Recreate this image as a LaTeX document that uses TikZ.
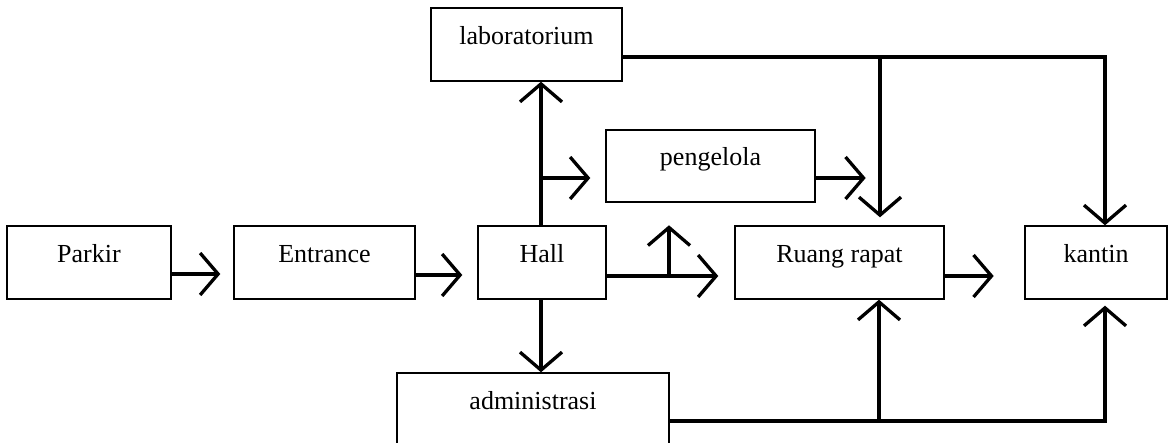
\documentclass[tikz,border=0pt]{standalone}
\usepackage{fontspec}
\setmainfont{Liberation Serif}
\usetikzlibrary{arrows.meta}
\tikzset{
  box/.style={draw, line width=1.4pt, inner sep=0pt, text height=9pt, text depth=9pt,
    font=\fontsize{26}{30}\selectfont, minimum height=73pt},
  arr/.style={line width=3.3pt, -{Straight Barb[length=18pt,width=42pt]}},
  conn/.style={line width=3.3pt}
}
\begin{document}
\begin{tikzpicture}[x=1pt,y=-1pt]
\clip (0,0) rectangle (1168,443);
\fill[white] (0,0) rectangle (1168,443);
% boxes
\node[box, minimum width=164pt] (parkir) at (89,262.5) {Parkir};
\node[box, minimum width=181pt] (entrance) at (324.5,262.5) {Entrance};
\node[box, minimum width=128pt] (hall) at (542,262.5) {Hall};
\node[box, minimum width=209pt] (ruang) at (839.5,262.5) {Ruang rapat};
\node[box, minimum width=142pt] (kantin) at (1096,262.5) {kantin};
\node[box, minimum width=191pt] (lab) at (526.5,44.5) {laboratorium};
\node[box, minimum width=209pt, minimum height=72pt] (peng) at (710.5,166) {pengelola};
\node[box, minimum width=272pt] (admin) at (533,409.5) {administrasi};
% coordinates of branch points
\coordinate (hb) at (541,178);
\coordinate (rb) at (669,276);
\coordinate (lb) at (880,57);
\coordinate (ab) at (879,421);
% connectors
\draw[arr] ([yshift=-11.5pt]parkir.east) -- ([yshift=-11.5pt,xshift=-13pt]entrance.west);
\draw[arr] ([yshift=-12.5pt]entrance.east) -- ([yshift=-12.5pt,xshift=-15pt]hall.west);
\draw[arr] ([yshift=-13.5pt]hall.east) -- ([yshift=-13.5pt,xshift=-16pt]ruang.west);
\draw[arr] (rb) -- (rb |- hall.north);
\draw[arr] ([xshift=-1pt]hall.north) -- ([xshift=-1pt]hall.north |- lab.south);
\draw[arr] (hb) -- ([yshift=-12pt,xshift=-15pt]peng.west);
\draw[arr] ([xshift=-1pt]hall.south) -- ([xshift=-1pt]hall.south |- admin.north);
\draw[arr] ([yshift=-12pt]peng.east) -- ([yshift=-12pt,xshift=50pt]peng.east);
\draw[arr] ([yshift=-12.5pt]lab.east) -| ([xshift=9pt]kantin.north);
\draw[arr] (lb) -- ([yshift=8pt]lb |- ruang.north);
\draw[arr] ([yshift=-13.5pt]ruang.east) -- ([yshift=-13.5pt,xshift=49pt]ruang.east);
\draw[arr] ([yshift=-11.5pt]admin.east) -| ([xshift=9pt,yshift=-6pt]kantin.south);
\draw[arr] (ab) -- (ab |- ruang.south);
\end{tikzpicture}
\end{document}
